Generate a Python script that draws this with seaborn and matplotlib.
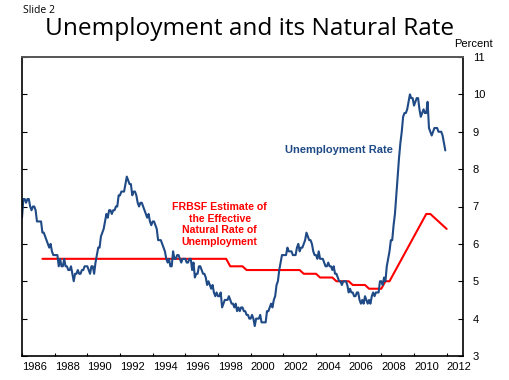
import numpy as np
import pandas as pd
import seaborn as sns
import matplotlib.pyplot as plt

# monthly unemployment rate, Jan 1986 - Dec 2011 (percent)
unemp_1986_1991 = [6.7, 7.2, 7.2, 7.1, 7.2, 7.2, 7.0, 6.9, 7.0, 7.0, 6.9, 6.6,
                   6.6, 6.6, 6.6, 6.3, 6.3, 6.2, 6.1, 6.0, 5.9, 6.0, 5.8, 5.7,
                   5.7, 5.7, 5.7, 5.4, 5.6, 5.4, 5.4, 5.6, 5.4, 5.4, 5.3, 5.3,
                   5.4, 5.2, 5.0, 5.2, 5.2, 5.3, 5.2, 5.2, 5.3, 5.3, 5.4, 5.4,
                   5.4, 5.3, 5.2, 5.4, 5.4, 5.2, 5.5, 5.7, 5.9, 5.9, 6.2, 6.3,
                   6.4, 6.6, 6.8, 6.7, 6.9, 6.9, 6.8, 6.9, 6.9, 7.0, 7.0, 7.3]
unemp_1992_1997 = [7.3, 7.4, 7.4, 7.4, 7.6, 7.8, 7.7, 7.6, 7.6, 7.3, 7.4, 7.4,
                   7.3, 7.1, 7.0, 7.1, 7.1, 7.0, 6.9, 6.8, 6.7, 6.8, 6.6, 6.5,
                   6.6, 6.6, 6.5, 6.4, 6.1, 6.1, 6.1, 6.0, 5.9, 5.8, 5.6, 5.5,
                   5.6, 5.4, 5.4, 5.8, 5.6, 5.6, 5.7, 5.7, 5.6, 5.5, 5.6, 5.6,
                   5.6, 5.5, 5.5, 5.6, 5.6, 5.3, 5.5, 5.1, 5.2, 5.2, 5.4, 5.4,
                   5.3, 5.2, 5.2, 5.1, 4.9, 5.0, 4.9, 4.8, 4.9, 4.7, 4.6, 4.7]
unemp_1998_2003 = [4.6, 4.6, 4.7, 4.3, 4.4, 4.5, 4.5, 4.5, 4.6, 4.5, 4.4, 4.4,
                   4.3, 4.4, 4.2, 4.3, 4.2, 4.3, 4.3, 4.2, 4.2, 4.1, 4.1, 4.0,
                   4.0, 4.1, 4.0, 3.8, 4.0, 4.0, 4.0, 4.1, 3.9, 3.9, 3.9, 3.9,
                   4.2, 4.2, 4.3, 4.4, 4.3, 4.5, 4.6, 4.9, 5.0, 5.3, 5.5, 5.7,
                   5.7, 5.7, 5.7, 5.9, 5.8, 5.8, 5.8, 5.7, 5.7, 5.7, 5.9, 6.0,
                   5.8, 5.9, 5.9, 6.0, 6.1, 6.3, 6.2, 6.1, 6.1, 6.0, 5.8, 5.7]
unemp_2004_2011 = [5.7, 5.6, 5.8, 5.6, 5.6, 5.6, 5.5, 5.4, 5.4, 5.5, 5.4, 5.4,
                   5.3, 5.4, 5.2, 5.2, 5.1, 5.0, 5.0, 4.9, 5.0, 5.0, 5.0, 4.9,
                   4.7, 4.8, 4.7, 4.7, 4.6, 4.6, 4.7, 4.7, 4.5, 4.4, 4.5, 4.4,
                   4.6, 4.5, 4.4, 4.5, 4.4, 4.6, 4.7, 4.6, 4.7, 4.7, 4.7, 5.0,
                   5.0, 4.9, 5.1, 5.0, 5.4, 5.6, 5.8, 6.1, 6.1, 6.5, 6.8, 7.3,
                   7.8, 8.3, 8.7, 9.0, 9.4, 9.5, 9.5, 9.6, 9.8, 10.0, 9.9, 9.9,
                   9.7, 9.8, 9.9, 9.9, 9.6, 9.4, 9.5, 9.6, 9.5, 9.5, 9.8, 9.1,
                   9.0, 8.9, 9.0, 9.1, 9.1, 9.1, 9.0, 9.0, 9.0, 8.9, 8.7, 8.5]
unemp_start = 1986

# FRBSF natural rate estimate, quarterly from 1987 Q2 to 2012 Q1
natural_start = 1987.25
natural_rate = [5.6, 5.6, 5.6,
                5.6, 5.6, 5.6, 5.6,  5.6, 5.6, 5.6, 5.6,  5.6, 5.6, 5.6, 5.6,
                5.6, 5.6, 5.6, 5.6,  5.6, 5.6, 5.6, 5.6,  5.6, 5.6, 5.6, 5.6,
                5.6, 5.6, 5.6, 5.6,  5.6, 5.6, 5.6, 5.6,  5.6, 5.6, 5.6, 5.6,
                5.6, 5.6, 5.6, 5.6,
                5.6, 5.6, 5.6, 5.4,  5.4, 5.4, 5.4, 5.3,
                5.3, 5.3, 5.3, 5.3,  5.3, 5.3, 5.3, 5.3,  5.3, 5.3, 5.3, 5.3,
                5.3, 5.2, 5.2, 5.2,  5.2, 5.1, 5.1, 5.1,  5.1, 5.0, 5.0, 5.0,
                5.0, 4.9, 4.9, 4.9,  4.9, 4.8, 4.8, 4.8,  4.8, 5.0, 5.0, 5.2,
                5.4, 5.6, 5.8, 6.0,  6.2, 6.4, 6.6, 6.8,  6.8, 6.7, 6.6, 6.5,
                6.4]

year_ticks = list(range(1986, 2013, 2))
pct_ticks = list(range(3, 12))

unemp = unemp_1986_1991 + unemp_1992_1997 + unemp_1998_2003 + unemp_2004_2011
df_u = pd.DataFrame({"date": unemp_start + np.arange(len(unemp)) / 12, "rate": unemp})
df_n = pd.DataFrame({"date": natural_start + np.arange(len(natural_rate)) / 4,
                     "rate": natural_rate})

sns.set_style("white")
plt.rcParams["font.family"] = ["Liberation Sans", "DejaVu Sans"]
plt.rcParams["text.color"] = "black"
plt.rcParams["xtick.color"] = "black"
plt.rcParams["ytick.color"] = "black"
plt.rcParams["xtick.labelcolor"] = "black"
plt.rcParams["ytick.labelcolor"] = "black"

blue = "#1f4a86"
red = "#ff0000"

fig = plt.figure(figsize=(5.1, 3.8), dpi=100)
ax = fig.add_axes([22 / 510, 1 - 356 / 380, 441 / 510, 299 / 380])

sns.lineplot(data=df_n, x="date", y="rate", color=red, linewidth=1.5, ax=ax)
sns.lineplot(data=df_u, x="date", y="rate", color=blue, linewidth=1.5, ax=ax)

ax.set_xlim(1986, 2013)
ax.set_ylim(3, 11)
ax.set_xlabel("")
ax.set_ylabel("")

ax.set_xticks(year_ticks)
ax.set_xticklabels([str(y) for y in year_ticks], ha="left")
ax.set_yticks(pct_ticks)
ax.yaxis.tick_right()
ax.tick_params(axis="y", which="both", left=True, right=True, labelleft=False,
               labelright=True, direction="in", length=3.3, width=0.8,
               pad=7, labelsize=8, color="black", labelcolor="black")
ax.tick_params(axis="x", bottom=True, direction="in", length=2.5, width=0.8,
               pad=4, labelsize=8, color="black", labelcolor="black")
for lab in ax.get_xticklabels():
    lab.set_horizontalalignment("left")

for side in ["left", "right", "bottom"]:
    ax.spines[side].set_color("black")
    ax.spines[side].set_linewidth(1.2)
ax.spines["top"].set_color("#555555")
ax.spines["top"].set_linewidth(1.4)

ax.text(2005.4, 8.5, "Unemployment Rate", color=blue, fontsize=8,
        fontweight="bold", ha="center", va="center")
ax.text(1998.1, 6.52, "FRBSF Estimate of\nthe Effective\nNatural Rate of\nUnemployment",
        color=red, fontsize=7.6, fontweight="bold", ha="center", va="center",
        linespacing=1.2)

fig.text(473 / 510, 1 - 44 / 380, "Percent", fontsize=8, ha="center", va="center",
         color="black")
fig.text(23 / 510, 1 - 13 / 380, "Slide 2", fontsize=7.5, ha="left", va="baseline",
         color="black", family=["Open Sans", "DejaVu Sans"])
fig.text(250 / 510, 1 - 35 / 380, "Unemployment and its Natural Rate",
         fontsize=17.6, ha="center", va="baseline", color="black",
         family=["Open Sans", "DejaVu Sans"])

fig.savefig("out.png", dpi=100, facecolor="white")
